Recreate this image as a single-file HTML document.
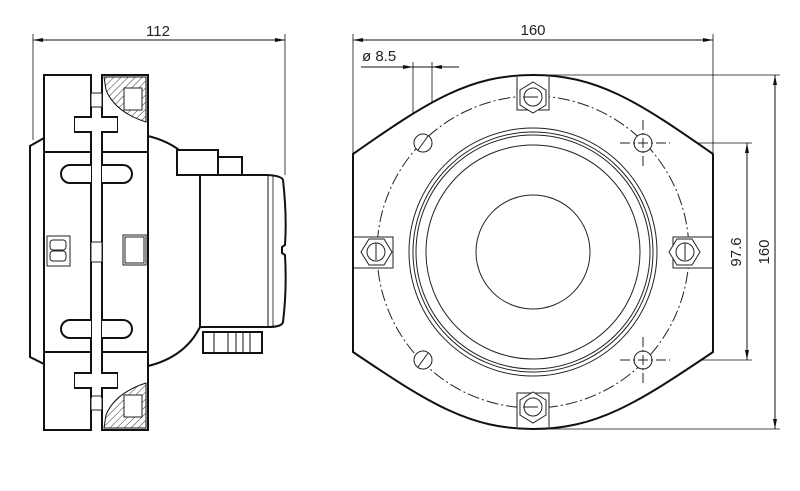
<!DOCTYPE html>
<html><head><meta charset="utf-8"><style>html,body{margin:0;padding:0;background:#fff}svg{display:block}text{font-family:"Liberation Sans",sans-serif;fill:#222}</style></head>
<body>
<svg width="800" height="491" viewBox="0 0 800 491" xmlns="http://www.w3.org/2000/svg">
<defs>
<marker id="a" viewBox="0 0 10 4" refX="10" refY="2" markerWidth="10" markerHeight="4" orient="auto-start-reverse" markerUnits="userSpaceOnUse"><path d="M0,0L10,2L0,4z" fill="#111"/></marker>
<pattern id="h" width="5" height="5" patternUnits="userSpaceOnUse" patternTransform="rotate(45)"><line x1="0" y1="0" x2="0" y2="5" stroke="#333" stroke-width="1"/></pattern>
</defs>
<g stroke="#111" fill="none" stroke-width="1">
<line x1="33" y1="40" x2="285" y2="40" marker-start="url(#a)" marker-end="url(#a)"/>
<line x1="33" y1="34" x2="33" y2="140" stroke-width="0.8"/>
<line x1="285" y1="34" x2="285" y2="175" stroke-width="0.8"/>
</g>
<text x="158" y="36" font-size="15" text-anchor="middle">112</text>

<g stroke="#111" fill="#fff" stroke-width="2">
<path d="M44,138 L30,146 L30,357 L44,364 Z"/>
<path d="M148,136 Q185,145 200,175 L200,327 Q185,357 148,366 Z"/>
<rect x="177" y="150" width="41" height="25"/>
<rect x="218" y="157" width="24" height="18"/>
<path d="M200,175 L268,175 Q282,176 283,180 Q287,215 285,245 L282,247 L282,253 L285,255 Q287,290 283,322 Q282,327 268,327 L200,327 Z"/>
<line x1="268" y1="175" x2="268" y2="327" stroke-width="1"/>
<line x1="273" y1="176" x2="273" y2="326" stroke-width="0.8"/>
<rect x="203" y="332" width="59" height="21"/>
<rect x="44" y="75" width="47" height="77"/>
<rect x="102" y="75" width="46" height="77"/>
<rect x="44" y="152" width="47" height="200"/>
<rect x="102" y="152" width="46" height="200"/>
<rect x="44" y="352" width="47" height="78"/>
<rect x="102" y="352" width="46" height="78"/>
</g>
<g stroke="#111" fill="none" stroke-width="1">
<line x1="214" y1="333" x2="214" y2="352"/><line x1="228" y1="333" x2="228" y2="352"/><line x1="236" y1="333" x2="236" y2="352"/><line x1="243" y1="333" x2="243" y2="352"/><line x1="250" y1="333" x2="250" y2="352"/>
</g>
<path d="M104,77 L146,77 L146,122 Q115,112 106,90 Z" fill="url(#h)" stroke="#111"/>
<path d="M104,428 L146,428 L146,383 Q115,393 106,415 Z" fill="url(#h)" stroke="#111"/>
<rect x="124" y="88" width="18" height="22" fill="#fff" stroke="#222"/>
<rect x="124" y="395" width="18" height="22" fill="#fff" stroke="#222"/>
<g fill="#fff" stroke="#222" stroke-width="1">
<rect x="91" y="93" width="11" height="14"/><rect x="91" y="396" width="11" height="14"/>
<rect x="91" y="242" width="11" height="20"/>
</g>
<g fill="#fff" stroke="#111" stroke-width="2">
<path d="M91,107 L91,117 L75,117 L75,132 L91,132 L91,150 M102,150 L102,132 L117,132 L117,117 L102,117 L102,107"/>
<path d="M91,398 L91,388 L75,388 L75,373 L91,373 L91,355 M102,355 L102,373 L117,373 L117,388 L102,388 L102,398"/>
<rect x="75" y="118" width="42" height="13" stroke="none"/>
<rect x="75" y="374" width="42" height="13" stroke="none"/>
<path d="M91,154 L91,165 L70,165 A9,9 0 0 0 70,183 L91,183 L91,242 M102,242 L102,183 L123,183 A9,9 0 0 0 123,165 L102,165 L102,154"/>
<path d="M91,262 L91,320 L70,320 A9,9 0 0 0 70,338 L91,338 L91,350 M102,350 L102,338 L123,338 A9,9 0 0 0 123,320 L102,320 L102,262"/>
</g>
<g fill="#fff" stroke="#222" stroke-width="1">
<rect x="47" y="236" width="23" height="30"/><rect x="50" y="240" width="16" height="10" rx="3"/><rect x="50" y="251" width="16" height="10" rx="3"/>
<rect x="123" y="235" width="23" height="30"/><rect x="125" y="237" width="19" height="26"/>
</g>

<g stroke="#111" fill="none" stroke-width="1">
<line x1="353" y1="40" x2="713" y2="40" marker-start="url(#a)" marker-end="url(#a)"/>
<line x1="353" y1="34" x2="353" y2="154" stroke-width="0.8"/>
<line x1="713" y1="34" x2="713" y2="154" stroke-width="0.8"/>
<line x1="361" y1="67" x2="459" y2="67"/>
<line x1="399" y1="67" x2="413" y2="67" marker-end="url(#a)"/>
<line x1="446" y1="67" x2="432" y2="67" marker-end="url(#a)"/>
<line x1="413" y1="62" x2="413" y2="143" stroke-width="0.8"/>
<line x1="432" y1="62" x2="432" y2="143" stroke-width="0.8"/>
<line x1="547" y1="75" x2="780" y2="75" stroke-width="0.8"/>
<line x1="547" y1="429" x2="780" y2="429" stroke-width="0.8"/>
<line x1="775" y1="75" x2="775" y2="429" marker-start="url(#a)" marker-end="url(#a)"/>
<line x1="670" y1="143" x2="752" y2="143" stroke-width="0.8"/>
<line x1="674" y1="360" x2="752" y2="360" stroke-width="0.8"/>
<line x1="747" y1="143" x2="747" y2="360" marker-start="url(#a)" marker-end="url(#a)"/>
</g>
<text x="533" y="35" font-size="15" text-anchor="middle">160</text>
<text x="362" y="61" font-size="15">ø 8.5</text>
<text x="0" y="0" font-size="15" text-anchor="middle" transform="translate(741,252) rotate(-90)">97.6</text>
<text x="0" y="0" font-size="15" text-anchor="middle" transform="translate(769,252) rotate(-90)">160</text>

<path d="M353,154 C430,100 470,75 533,75 C596,75 636,100 713,154 L713,352 C636,404 596,429 533,429 C470,429 430,404 353,352 Z" fill="#fff" stroke="#111" stroke-width="2"/>
<circle cx="533" cy="252" r="156" fill="none" stroke="#222" stroke-width="1" stroke-dasharray="12,3,2,3"/>
<g fill="none" stroke="#222" stroke-width="1">
<circle cx="533" cy="252" r="124"/>
<circle cx="533" cy="252" r="120"/>
<circle cx="533" cy="252" r="117"/>
<circle cx="533" cy="252" r="107"/>
<circle cx="533" cy="252" r="57"/>
</g>
<g fill="#fff" stroke="#222" stroke-width="1">
<circle cx="423" cy="143" r="9"/><line x1="418" y1="150" x2="428" y2="136"/>
<circle cx="423" cy="360" r="9"/><line x1="418" y1="367" x2="428" y2="353"/>
<circle cx="643" cy="143" r="9"/><circle cx="643" cy="360" r="9"/>
<path d="M620,143H670M643,120V166M620,360H670M643,337V383" stroke-dasharray="10,3,2,3"/>
</g>
<g fill="#fff" stroke="#222" stroke-width="1">
<path d="M517,77 L517,110 L549,110 L549,77"/>
<path d="M517,427 L517,393 L549,393 L549,427"/>
<path d="M354,237 L393,237 L393,268 L354,268"/>
<path d="M712,237 L673,237 L673,268 L712,268"/>
<polygon points="533,82 546,90 546,105 533,113 520,105 520,90"/><circle cx="533" cy="97" r="9"/><line x1="523" y1="97" x2="538" y2="97"/>
<polygon points="533,392 546,400 546,415 533,423 520,415 520,400"/><circle cx="533" cy="407" r="9"/><line x1="523" y1="407" x2="538" y2="407"/>
<polygon points="361,252 369,239 384,239 392,252 384,265 369,265"/><circle cx="376" cy="252" r="9"/><line x1="376" y1="243" x2="376" y2="260"/>
<polygon points="669,252 677,239 692,239 700,252 692,265 677,265"/><circle cx="685" cy="252" r="9"/><line x1="685" y1="243" x2="685" y2="260"/>
</g>
</svg>
</body></html>
